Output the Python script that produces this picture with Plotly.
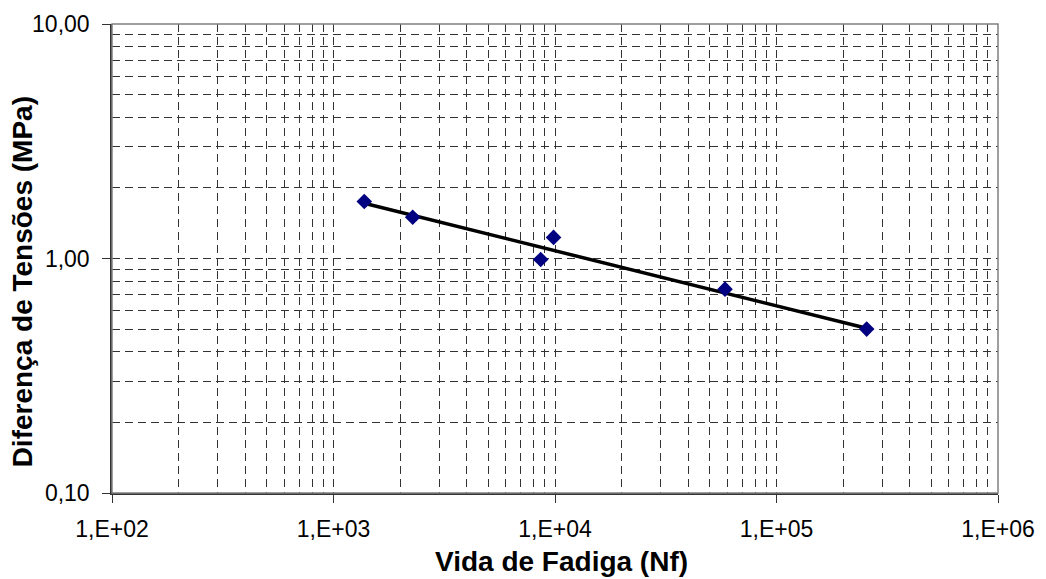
import plotly.graph_objects as go

# Measured data points (fatigue life vs stress difference)
nf_points = [1377, 2278, 8618, 9850, 58550, 255300]
stress_points = [1.75, 1.50, 0.99, 1.23, 0.74, 0.50]

# Trend line
nf_trend = [1377, 2278, 10000, 20000, 58550, 255300]
stress_trend = [1.72, 1.527, 1.08, 0.917, 0.713, 0.504]

x_tickvals = [1e2, 1e3, 1e4, 1e5, 1e6]
x_ticktext = ["1,E+02", "1,E+03", "1,E+04", "1,E+05", "1,E+06"]
y_tickvals = [0.1, 1, 10]
y_ticktext = ["0,10", "1,00", "10,00"]

FONT = "Liberation Sans, Arial, sans-serif"
GRID = "#333333"
DASH = "8px,5px"

fig = go.Figure()
fig.add_trace(go.Scatter(
    x=nf_trend, y=stress_trend, mode="lines",
    line=dict(color="black", width=3.5), hoverinfo="skip", showlegend=False))
fig.add_trace(go.Scatter(
    x=nf_points, y=stress_points, mode="markers",
    marker=dict(symbol="diamond", size=12, color="#000080"), showlegend=False))

axis_common = dict(
    type="log", showgrid=True, gridcolor=GRID, gridwidth=1, griddash=DASH,
    showline=True, linecolor="#333333", linewidth=1.5,
    ticks="outside", ticklen=8, tickcolor="#333333", tickwidth=1,
    tickfont=dict(family=FONT, size=23, color="black"),
    zeroline=False,
)

fig.update_xaxes(
    **axis_common, range=[2, 6], tickmode="array",
    tickvals=x_tickvals, ticktext=x_ticktext, ticklabelstandoff=7,
    minor=dict(dtick="D1", showgrid=True, gridcolor=GRID, griddash=DASH, gridwidth=1, ticks=""),
)
fig.update_yaxes(
    **axis_common, range=[-1, 1], tickmode="array",
    tickvals=y_tickvals, ticktext=y_ticktext, ticklabelstandoff=8,
    minor=dict(dtick="D1", showgrid=True, gridcolor=GRID, griddash=DASH, gridwidth=1, ticks=""),
)

fig.update_layout(
    width=1046, height=579,
    margin=dict(l=112, r=48, t=24, b=86),
    paper_bgcolor="white", plot_bgcolor="white",
    shapes=[dict(type="rect", xref="paper", yref="paper", x0=0, x1=1, y0=0, y1=1,
                 line=dict(color="#808080", width=1.5), layer="above")],
    annotations=[
        dict(text="<b>Vida de Fadiga (Nf)</b>", xref="paper", yref="paper",
             x=0.507, y=-0.146, xanchor="center", yanchor="middle", showarrow=False,
             font=dict(family=FONT, size=28, color="black")),
        dict(text="<b>Diferença de Tensões (MPa)</b>", xref="paper", yref="paper",
             x=-0.1, y=0.45, xanchor="center", yanchor="middle", showarrow=False,
             textangle=-90, font=dict(family=FONT, size=28, color="black")),
    ],
)

fig.write_html("out.html")
